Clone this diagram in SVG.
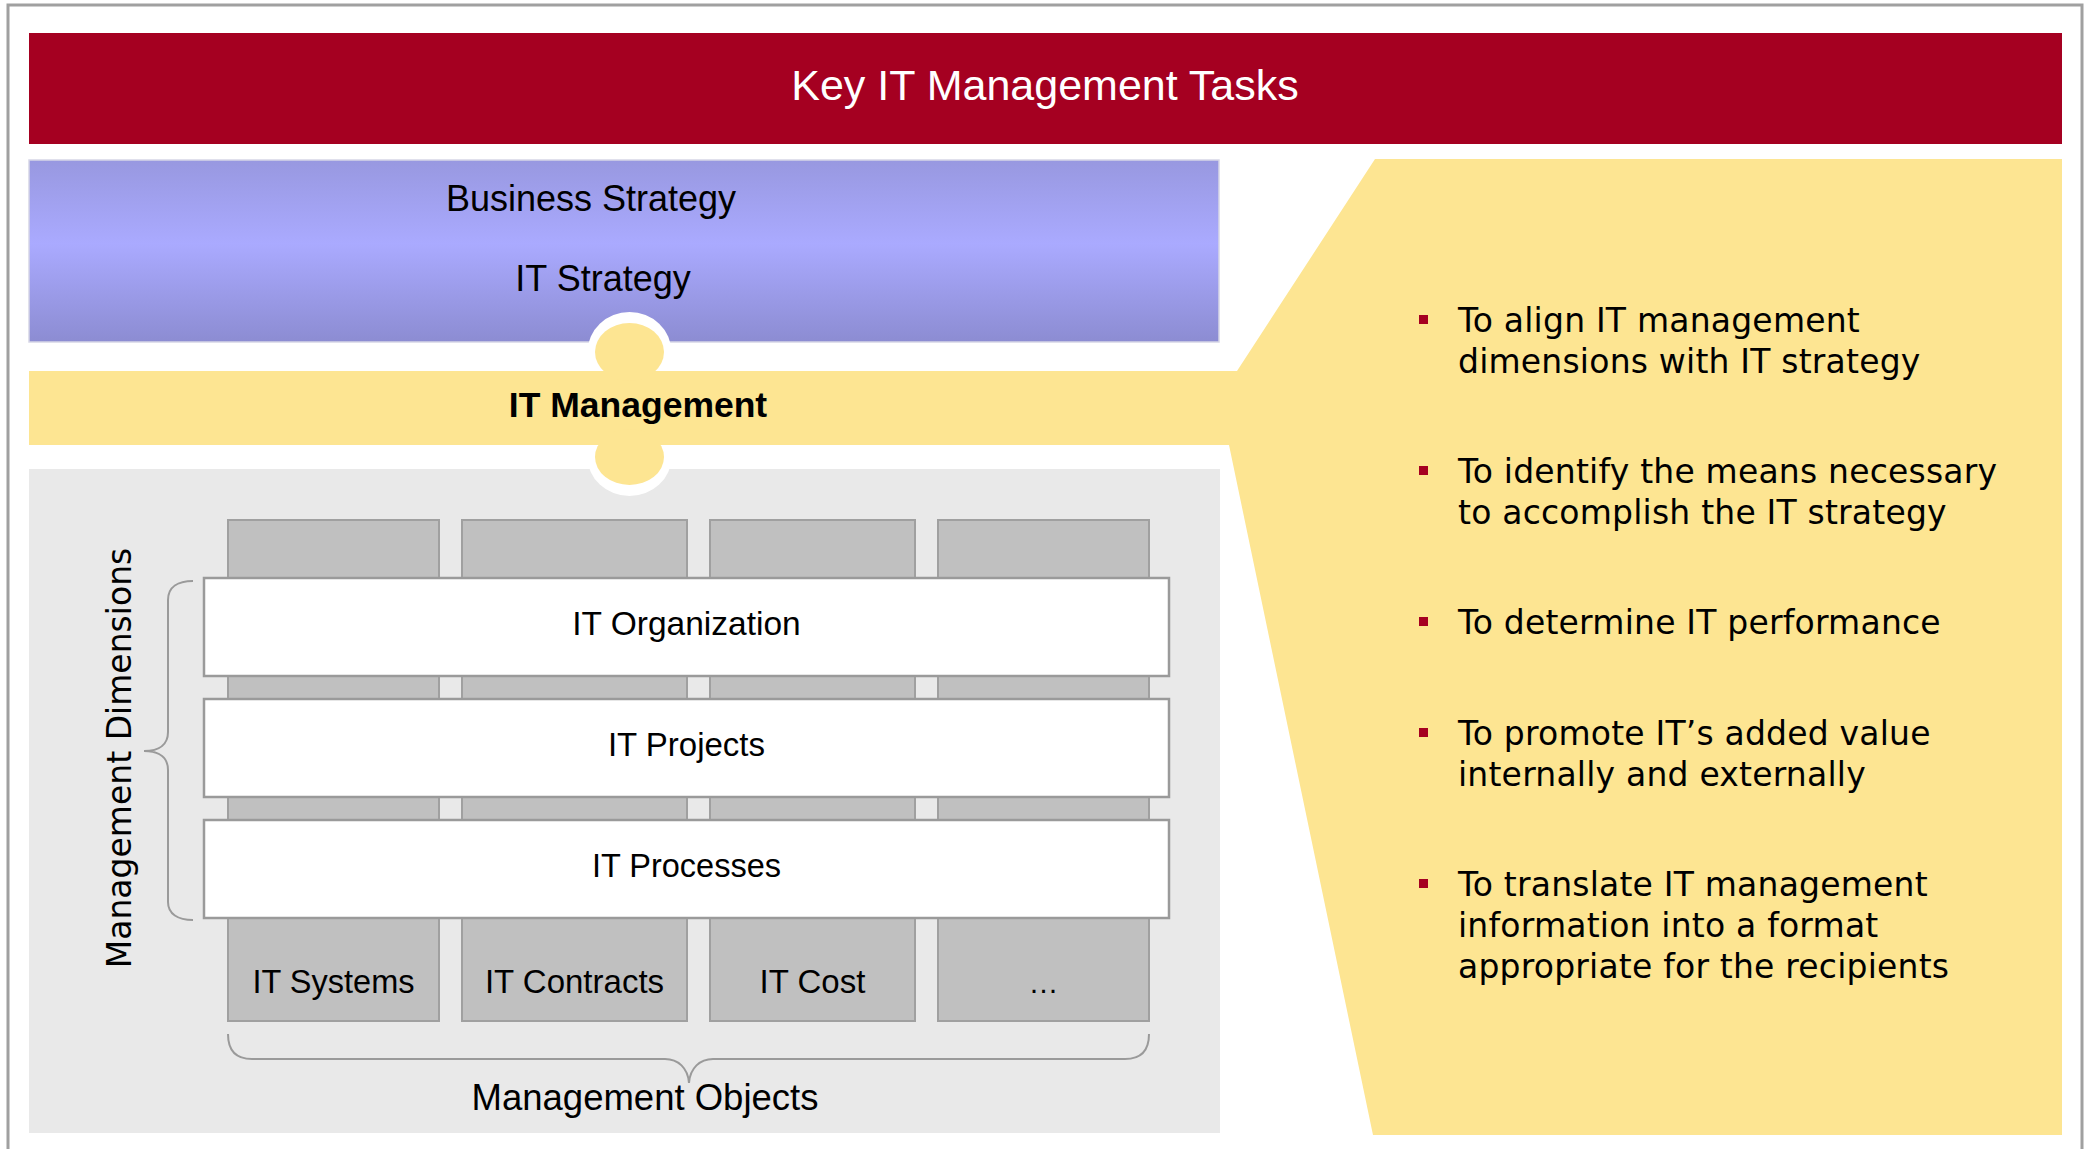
<svg xmlns="http://www.w3.org/2000/svg" width="2089" height="1149" viewBox="0 0 2089 1149">
<defs>
<linearGradient id="blueGrad" x1="0" y1="0" x2="0" y2="1">
<stop offset="0" stop-color="#9898e0"/>
<stop offset="0.46" stop-color="#aaaaff"/>
<stop offset="1" stop-color="#8c8cd2"/>
</linearGradient>
<style>
.sans{font-family:"Liberation Sans",Arial,sans-serif;fill:#000;text-anchor:middle}
.wide{font-family:"DejaVu Sans",Verdana,sans-serif;fill:#000}
.task{letter-spacing:0.2px}
.col{fill:#c0c0c0;stroke:#a0a0a0;stroke-width:2}
.row{fill:#fff;stroke:#9a9a9a;stroke-width:2.5}
.brace{fill:none;stroke:#9a9a9a;stroke-width:2}
.bul{fill:#a50021}
.yel{fill:#fde592}
</style>
</defs>
<rect x="0" y="0" width="2089" height="1149" fill="#fff"/>
<path d="M8,1149 V5 H2082 V1149" fill="none" stroke="#a0a0a0" stroke-width="3"/>

<g id="title">
<rect x="29" y="33" width="2033" height="111" fill="#a50021"/>
<text class="sans" x="1045" y="100" font-size="43" style="fill:#fff">Key IT Management Tasks</text>
</g>

<g id="strategy">
<rect x="29" y="160" width="1190" height="182" fill="url(#blueGrad)" stroke="#d6d6e6" stroke-width="1.5"/>
<text class="sans" x="591" y="211" font-size="36">Business Strategy</text>
<text class="sans" x="603" y="291" font-size="36">IT Strategy</text>
</g>

<g id="panel">
<rect x="29" y="469" width="1191" height="664" fill="#e9e9e9"/>
</g>

<g id="connectors">
<ellipse cx="629.5" cy="352" rx="42" ry="40" fill="#fff"/>
<ellipse cx="629.5" cy="457" rx="42" ry="39" fill="#fff"/>
</g>

<g id="it-management">
<path class="yel" d="M1375,159 H2062 V1135 H1373 L1229,445 H29 V371 H1237 Z"/>
<ellipse class="yel" cx="629.5" cy="352" rx="34.5" ry="29"/>
<ellipse class="yel" cx="629.5" cy="457" rx="34.5" ry="28"/>
<text class="sans" x="638" y="417" font-size="35.5" font-weight="bold">IT Management</text>
</g>

<g id="management-objects">
<rect class="col" x="228" y="520" width="211" height="501"/>
<rect class="col" x="462" y="520" width="225" height="501"/>
<rect class="col" x="710" y="520" width="205" height="501"/>
<rect class="col" x="938" y="520" width="211" height="501"/>
<text class="sans" x="333.5" y="993" font-size="32.5">IT Systems</text>
<text class="sans" x="574.5" y="993" font-size="33">IT Contracts</text>
<text class="sans" x="812.5" y="993" font-size="33">IT Cost</text>
<text class="sans" x="1043.5" y="993" font-size="30">…</text>
</g>

<g id="dimension-organization">
<rect class="row" x="204" y="578" width="965" height="98"/>
<text class="sans" x="686.5" y="635" font-size="33.5">IT Organization</text>
</g>
<g id="dimension-projects">
<rect class="row" x="204" y="699" width="965" height="98"/>
<text class="sans" x="686.5" y="756" font-size="33">IT Projects</text>
</g>
<g id="dimension-processes">
<rect class="row" x="204" y="820" width="965" height="98"/>
<text class="sans" x="686.5" y="877" font-size="32.5">IT Processes</text>
</g>

<g id="brace-dimensions">
<path class="brace" d="M193,581 C178,581 168,587 168,600 V732 C168,744 160,751 144,751 C160,751 168,758 168,770 V902 C168,914 178,920 193,920"/>
<text class="wide" font-size="33" text-anchor="middle" transform="translate(131,758) rotate(-90)">Management Dimensions</text>
</g>

<g id="brace-objects">
<path class="brace" d="M228,1034 C228,1050 236,1059 252,1059 H665 C678,1059 688,1068 689,1083 C690,1068 700,1059 713,1059 H1125 C1141,1059 1149,1050 1149,1034"/>
<text class="sans" x="645" y="1110" font-size="36.5">Management Objects</text>
</g>

<g id="tasks">
<rect class="bul" x="1419" y="315" width="9" height="9"/>
<text class="wide task" x="1458" y="332" font-size="33">To align IT management</text>
<text class="wide task" x="1458" y="373" font-size="33">dimensions with IT strategy</text>
<rect class="bul" x="1419" y="466" width="9" height="9"/>
<text class="wide task" x="1458" y="483" font-size="33">To identify the means necessary</text>
<text class="wide task" x="1458" y="524" font-size="33">to accomplish the IT strategy</text>
<rect class="bul" x="1419" y="617" width="9" height="9"/>
<text class="wide task" x="1458" y="634" font-size="33">To determine IT performance</text>
<rect class="bul" x="1419" y="728" width="9" height="9"/>
<text class="wide task" x="1458" y="745" font-size="33">To promote IT’s added value</text>
<text class="wide task" x="1458" y="786" font-size="33">internally and externally</text>
<rect class="bul" x="1419" y="879" width="9" height="9"/>
<text class="wide task" x="1458" y="896" font-size="33">To translate IT management</text>
<text class="wide task" x="1458" y="937" font-size="33">information into a format</text>
<text class="wide task" x="1458" y="978" font-size="33">appropriate for the recipients</text>
</g>
</svg>
